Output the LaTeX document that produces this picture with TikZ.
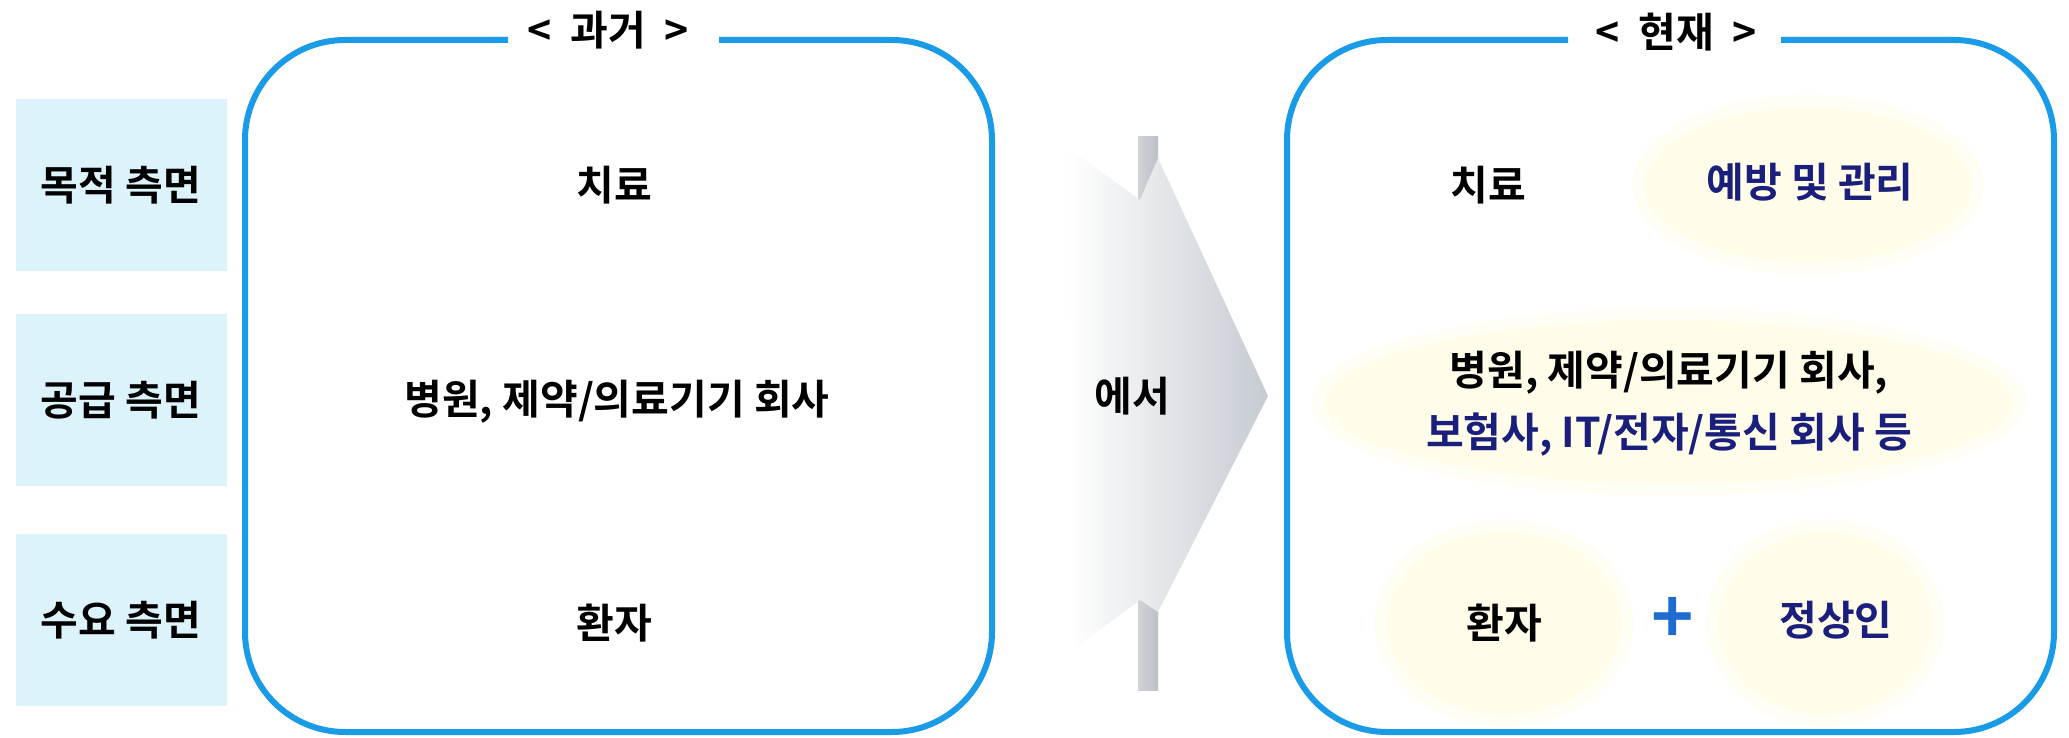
\documentclass[tikz,border=0pt]{standalone}
\usepackage{fontspec}
\setmainfont{Noto Sans CJK KR Bold}
\usetikzlibrary{shapes.geometric}
\definecolor{frameblue}{HTML}{1A9BE8}
\definecolor{sidebox}{HTML}{DDF3FB}
\definecolor{navy}{HTML}{1B1F7C}
\definecolor{paleyel}{HTML}{FFFDEA}
\definecolor{paleyelout}{HTML}{FFFEF5}
\definecolor{plusblue}{HTML}{1F6CD0}
\definecolor{arrowgray}{HTML}{C6CBD2}
\definecolor{bargray}{HTML}{BCC1C6}
\tikzset{
  side/.style={fill=sidebox, minimum width=105.5pt, minimum height=86pt, inner sep=0pt},
  txt/.style={font=\fontsize{20.5}{24}\selectfont, inner sep=0pt},
  frame/.style={draw=frameblue, line width=3pt, rounded corners=50pt},
  blob/.style={ellipse, fill=paleyel, inner sep=0pt},
  blobhalo/.style={ellipse, fill=paleyelout, inner sep=0pt},
}
\begin{document}
\begin{tikzpicture}[x=0.5pt,y=-0.5pt]
\useasboundingbox (0,0) rectangle (2069,738);
% side boxes
\node[side] (s1) at (121,185) {};
\node[side] (s2) at (121,400) {};
\node[side] (s3) at (121,620) {};
\node[txt] (l1) at (s1) {목적 측면};
\node[txt] (l2) at (s2) {공급 측면};
\node[txt] (l3) at (s3) {수요 측면};
% left frame
\draw[frame] (508,40) -- (245,40) -- (245,732) -- (992,732) -- (992,40) -- (719,40);
\node[txt] (t1) at (608,30) {<\ \ 과거\ \ >};
\node[txt] (p1) at (614,185) {치료};
\node[txt] (p2) at (617,402) {병원, 제약/의료기기 회사};
\node[txt] (p3) at (614,623) {환자};
% arrow
\shade[left color=bargray!70, right color=bargray] (1138,137) rectangle (1158,690);
\shade[left color=white, right color=arrowgray]
  (1068,148) -- (1140,200) -- (1158,158) -- (1268,396)
  -- (1158,612) -- (1140,600) -- (1075,648) -- cycle;
\node[txt] (ar) at (1132,396) {에서};
% right frame
\draw[frame] (1568,40) -- (1287,40) -- (1287,732) -- (2054,732) -- (2054,40) -- (1781,40);
\node[txt] (t2) at (1676,32) {<\ \ 현재\ \ >};
\node[blobhalo, minimum width=176pt, minimum height=90pt] (h1) at (1808,185) {};
\node[blobhalo, minimum width=358pt, minimum height=94pt] (h2) at (1669,402) {};
\node[blobhalo, minimum width=130pt, minimum height=104pt] (h3) at (1504,623) {};
\node[blobhalo, minimum width=119pt, minimum height=104pt] (h4) at (1825,623) {};
\node[blob, minimum width=164pt, minimum height=78pt] (e1) at (1808,185) {};
\node[blob, minimum width=344pt, minimum height=82pt] (e2) at (1669,402) {};
\node[blob, minimum width=118pt, minimum height=92pt] (e3) at (1504,623) {};
\node[blob, minimum width=107pt, minimum height=92pt] (e4) at (1825,623) {};
\node[txt] (r1) at (1488,185) {치료};
\node[txt, text=navy] (r2) at (1810,182) {예방 및 관리};
\node[txt] (r3) at (1669,373) {병원, 제약/의료기기 회사,};
\node[txt, text=navy] (r4) at (1669,435) {보험사, IT/전자/통신 회사 등};
\node[txt] (r5) at (1504,623) {환자};
\node[txt, text=navy] (r6) at (1836,620) {정상인};
\node[font=\fontsize{36}{36}\selectfont, text=plusblue, inner sep=0pt] (plus) at (1673,620) {+};
\end{tikzpicture}
\end{document}
